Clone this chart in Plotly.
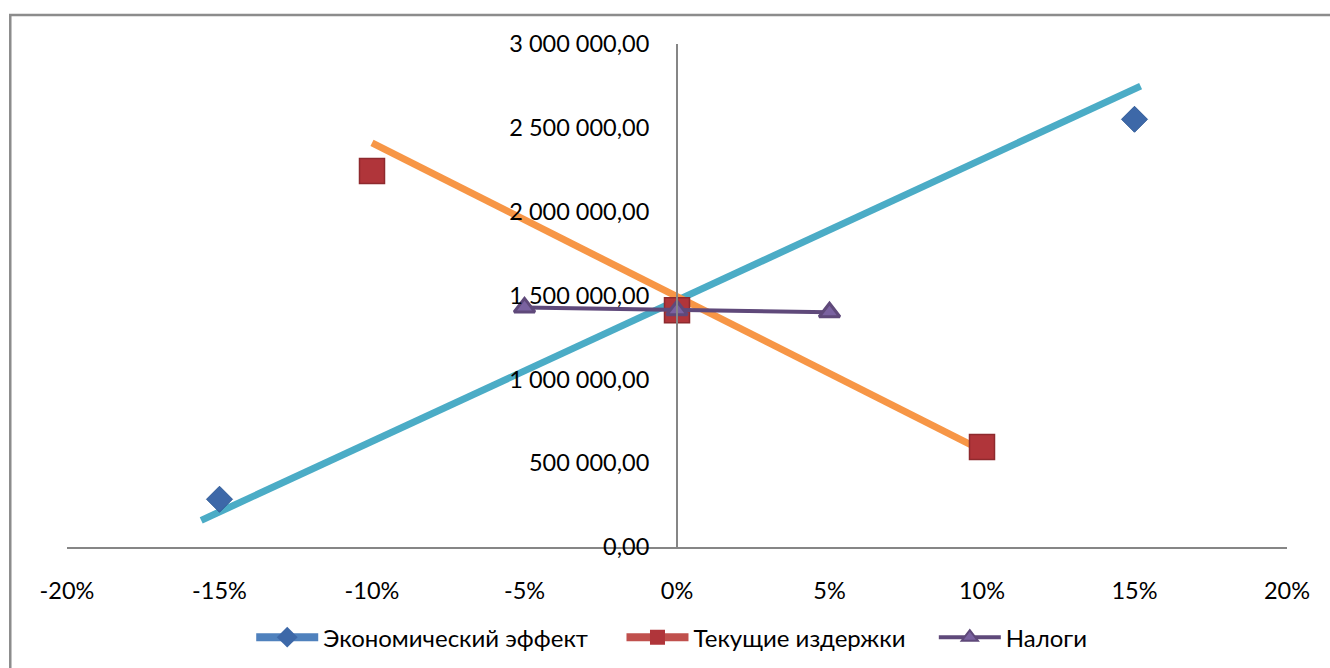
import plotly.graph_objects as go

# Change of parameter, %
econ_x = [-15, 0, 15]
econ_y = [285000, 1415000, 2551000]          # Экономический эффект

cost_x = [-10, 0, 10]
cost_y = [2242000, 1412000, 596000]          # Текущие издержки

tax_x = [-5, 0, 5]
tax_y = [1429000, 1412000, 1400000]          # Налоги

# Linear trend lines
trend_econ_x = [-15.6, 15.2]
trend_econ_y = [159000, 2749000]
trend_cost_x = [-10, 10]
trend_cost_y = [2410000, 577000]

x_ticks = [-20, -15, -10, -5, 0, 5, 10, 15, 20]
x_labels = ["-20%", "-15%", "-10%", "-5%", "0%", "5%", "10%", "15%", "20%"]
y_ticks = [0, 500000, 1000000, 1500000, 2000000, 2500000, 3000000]
y_labels = ["0,00", "500 000,00", "1 000 000,00", "1 500 000,00",
            "2 000 000,00", "2 500 000,00", "3 000 000,00"]

FONT = "Lato, 'Open Sans', sans-serif"
BLUE = "#3d68a8"
RED = "#b0353a"
PURPLE = "#5f497a"

fig = go.Figure()

# trend lines
fig.add_trace(go.Scatter(x=trend_econ_x, y=trend_econ_y, mode="lines",
                         line=dict(color="#4bacc6", width=7), showlegend=False,
                         hoverinfo="skip"))
fig.add_trace(go.Scatter(x=trend_cost_x, y=trend_cost_y, mode="lines",
                         line=dict(color="#f79646", width=7), showlegend=False,
                         hoverinfo="skip"))

# series markers
fig.add_trace(go.Scatter(x=econ_x, y=econ_y, mode="markers", showlegend=False,
                         marker=dict(symbol="diamond", size=20, color=BLUE,
                                     line=dict(color="#2f5a97", width=1))))
fig.add_trace(go.Scatter(x=cost_x, y=cost_y, mode="markers", showlegend=False,
                         marker=dict(symbol="square", size=25, color=RED,
                                     line=dict(color="#8e2a2e", width=1.5))))
fig.add_trace(go.Scatter(x=tax_x, y=tax_y, mode="lines+markers", showlegend=False,
                         line=dict(color=PURPLE, width=4),
                         marker=dict(symbol="triangle-up", size=18, color="#7a62a0",
                                     line=dict(color=PURPLE, width=3))))

# legend entries, one legend box each
fig.add_trace(go.Scatter(x=[None], y=[None], mode="lines+markers",
                         name="Экономический эффект", legend="legend",
                         line=dict(color="#4f81bd", width=8),
                         marker=dict(symbol="diamond", size=16, color=BLUE)))
fig.add_trace(go.Scatter(x=[None], y=[None], mode="lines+markers",
                         name="Текущие издержки", legend="legend2",
                         line=dict(color="#c0504d", width=8),
                         marker=dict(symbol="square", size=15, color=RED)))
fig.add_trace(go.Scatter(x=[None], y=[None], mode="lines+markers",
                         name="Налоги", legend="legend3",
                         line=dict(color=PURPLE, width=4),
                         marker=dict(symbol="triangle-up", size=14, color="#7a62a0",
                                     line=dict(color=PURPLE, width=2))))

legend_common = dict(orientation="h", y=-0.18, yanchor="middle", xanchor="left",
                     font=dict(family=FONT, size=24, color="black"),
                     itemwidth=62, bgcolor="rgba(0,0,0,0)")

fig.update_layout(
    width=1330, height=668,
    margin=dict(l=67, r=43, t=44, b=121, autoexpand=False),
    paper_bgcolor="white", plot_bgcolor="white",
    font=dict(family=FONT, size=23.5, color="black"),
    showlegend=True,
    legend=dict(x=0.151, **legend_common),
    legend2=dict(x=0.4545, **legend_common),
    legend3=dict(x=0.7105, **legend_common),
    xaxis=dict(range=[-20, 20], tickvals=x_ticks, ticktext=x_labels,
               showgrid=False, zeroline=False, showline=True,
               linecolor="#868686", linewidth=2, ticks="",
               ticklabelstandoff=22, fixedrange=True),
    yaxis=dict(range=[0, 3000000], tickvals=y_ticks, ticktext=y_labels,
               showgrid=False, zeroline=False, showline=True,
               linecolor="#868686", linewidth=2, ticks="",
               anchor="free", position=0.5, ticklabelstandoff=22,
               fixedrange=True),
    shapes=[dict(type="rect", xref="paper", yref="paper",
                 x0=-0.0465, x1=1.2, y0=-0.5, y1=1.0577,
                 line=dict(color="#8c8c8c", width=2.5), layer="below")],
)

fig.write_html("out.html")
